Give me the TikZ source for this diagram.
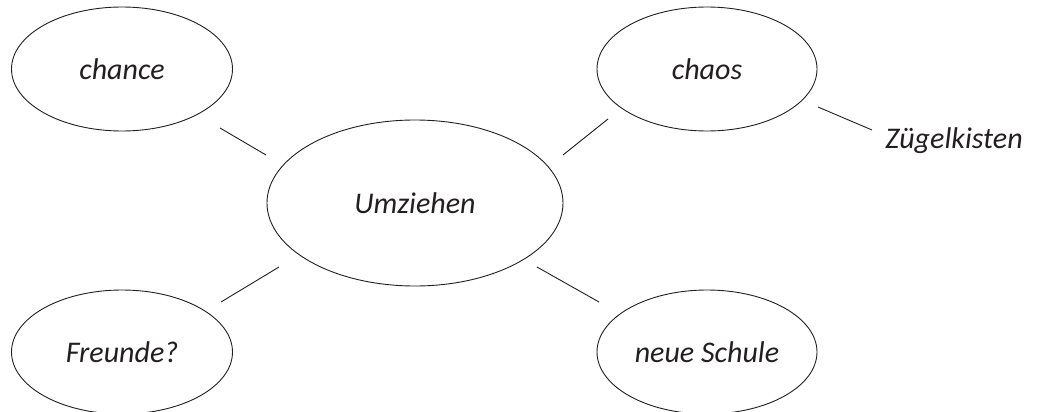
\documentclass[tikz,border=0pt]{standalone}
\usepackage{fontspec}
\setmainfont{Carlito}
\usetikzlibrary{shapes.geometric}
\definecolor{ink}{HTML}{231F20}
\begin{document}
\begin{tikzpicture}[x=1pt,y=-1pt,
  bubble/.style={ellipse,draw=ink,line width=0.9pt,inner sep=0pt,
    font=\fontsize{30}{36}\selectfont\itshape,text=ink},
  link/.style={draw=ink,line width=0.9pt},
  word/.style={font=\fontsize{30}{36}\selectfont\itshape,text=ink,inner sep=0pt}]
\useasboundingbox (0,0) rectangle (1039,412);
\node[bubble,minimum width=221pt,minimum height=124pt] (chance) at (122,69) {chance};
\node[bubble,minimum width=220pt,minimum height=124pt] (chaos) at (707,69) {chaos};
\node[bubble,minimum width=296pt,minimum height=166pt] (umz) at (415,203) {Umziehen};
\node[bubble,minimum width=221pt,minimum height=124pt] (freunde) at (122,352) {Freunde?};
\node[bubble,minimum width=220pt,minimum height=124pt] (schule) at (707,352) {neue Schule};
\node[word,anchor=base] (kisten) at (954,148) {Zügelkisten};
\coordinate (a1) at (220,128); \coordinate (a2) at (266,155);
\coordinate (b1) at (608,119); \coordinate (b2) at (563,155);
\coordinate (c1) at (221,302); \coordinate (c2) at (279,267);
\coordinate (d1) at (599,302); \coordinate (d2) at (537,267);
\coordinate (e1) at (818,107); \coordinate (e2) at (872,130);
\draw[link] (a1) -- (a2);
\draw[link] (b1) -- (b2);
\draw[link] (c1) -- (c2);
\draw[link] (d1) -- (d2);
\draw[link] (e1) -- (e2);
\end{tikzpicture}
\end{document}
